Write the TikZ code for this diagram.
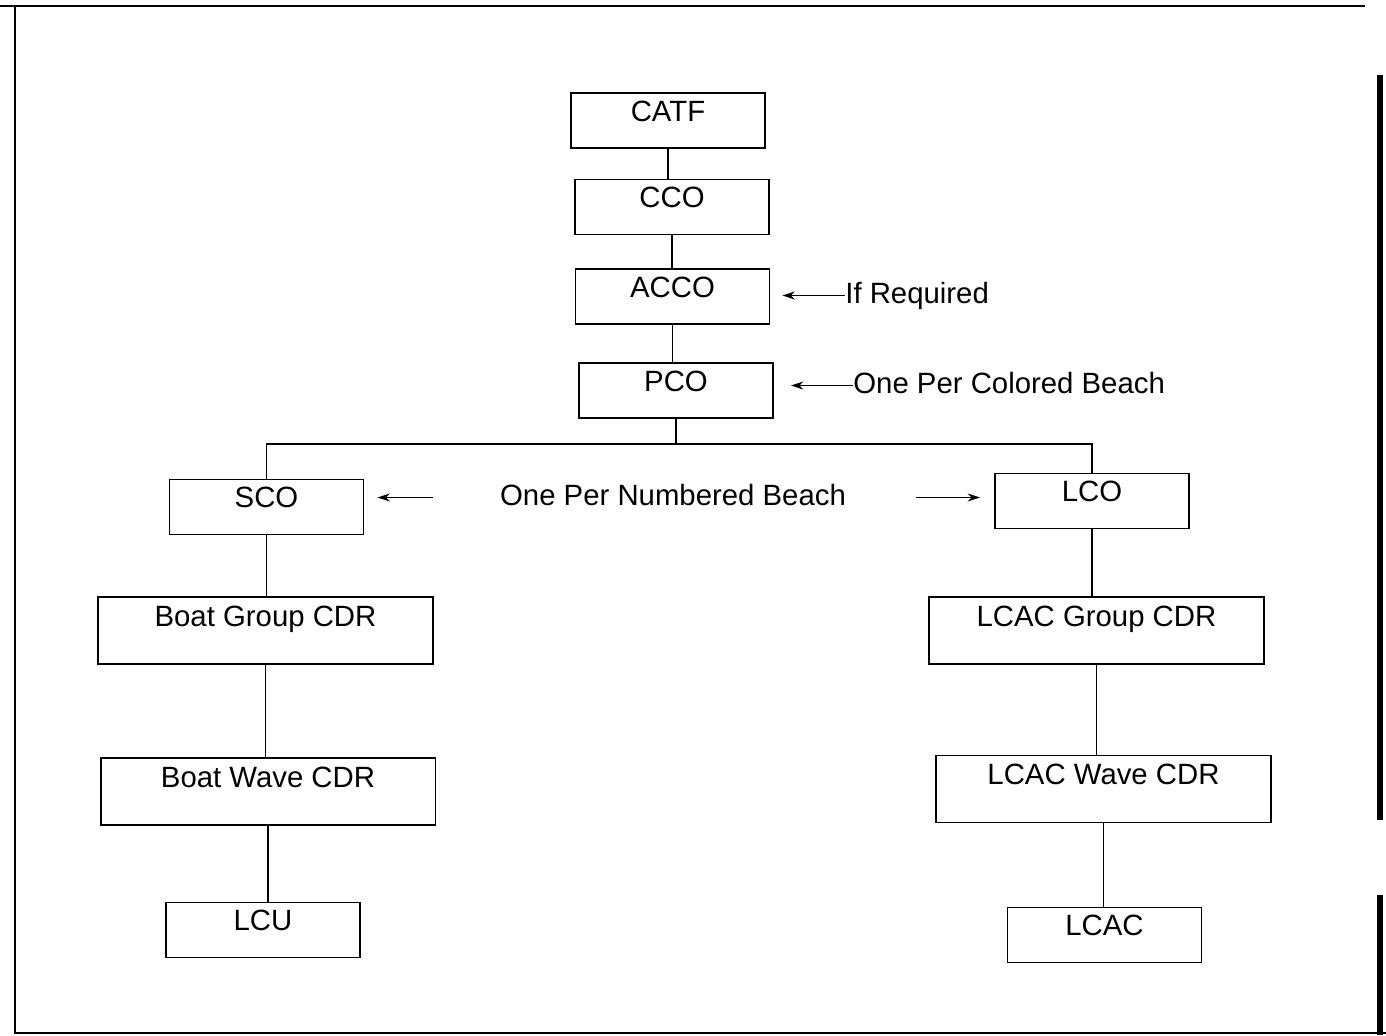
\documentclass[tikz,border=0pt]{standalone}
\usepackage{fontspec}
\setmainfont{Liberation Sans}
\usetikzlibrary{arrows.meta}
\tikzset{
  box/.style={draw, line width=1.1pt, inner sep=0pt, minimum width=3.88cm, text height=0.56cm, text depth=0.54cm},
  widebox/.style={box, minimum width=6.7cm, text height=0.58cm, text depth=0.76cm},
  note/.style={inner sep=0pt, text height=0.44cm, text depth=0.14cm},
  link/.style={line width=0.8pt},
  pointer/.style={->, line width=1pt}
}
\begin{document}
\begin{tikzpicture}[>={Stealth[length=7pt, width=4.5pt]}, x=0.02cm, y=-0.02cm, font=\fontsize{16.7}{20}\selectfont]
	\useasboundingbox (0,0) rectangle (1386,1035);
	% khung
	\draw[line width=1.2pt] (0,6) -- (1365,6);
	\draw[line width=1.2pt] (15,6) -- (15,1033) -- (1386,1033);
	\draw[line width=3pt] (1380,75) -- (1380,820);
	\draw[line width=3pt] (1380,895) -- (1380,1035);
	% cap tren
	\node[box] (catf) at (668,120.5) {CATF};
	\node[box] (cco) at (672,207) {CCO};
	\node[box] (acco) at (672.5,296.5) {ACCO};
	\node[box] (pco) at (676,390.5) {PCO};
	\draw[link] (catf.south) -- (catf.south |- cco.north);
	\draw[link] (cco.south) -- (cco.south |- acco.north);
	\draw[link] (acco.south) -- (acco.south |- pco.north);
	\node[note, anchor=base west] (ifreq) at (845,303) {If Required};
	\node[note, anchor=base west] (colored) at (853,393) {One Per Colored Beach};
	\draw[pointer, shorten >=0.24cm] (ifreq.west) -- (acco.east |- ifreq.west);
	\draw[pointer, shorten >=0.34cm] (colored.west) -- (pco.east |- colored.west);
	% hai nhanh
	\node[box] (sco) at (266.5,507) {SCO};
	\node[box] (lco) at (1092,501) {LCO};
	\draw[link] (pco.south) -- ++(0,25) coordinate (bus);
	\draw[link] (sco.north) |- (bus) -| (lco.north);
	\node[note, anchor=base] (numbered) at (673,505) {One Per Numbered Beach};
	\draw[pointer, shorten <=1.34cm, shorten >=0.26cm] (numbered.west) -- (sco.east |- numbered.west);
	\draw[pointer, shorten <=1.40cm, shorten >=0.28cm] (numbered.east) -- (lco.west |- numbered.east);
	% nhanh trai
	\node[widebox] (bgroup) at (265.5,630.5) {Boat Group CDR};
	\node[widebox] (bwave) at (268,791.5) {Boat Wave CDR};
	\node[box] (lcu) at (263,930) {LCU};
	\draw[link] (sco.south) -- (sco.south |- bgroup.north);
	\draw[link] (bgroup.south) -- (bgroup.south |- bwave.north);
	\draw[link] (bwave.south) -- (bwave.south |- lcu.north);
	% nhanh phai
	\node[widebox] (lgroup) at (1096.5,630.5) {LCAC Group CDR};
	\node[widebox] (lwave) at (1103.5,789) {LCAC Wave CDR};
	\node[box] (lcac) at (1104.5,935) {LCAC};
	\draw[link] (lco.south) -- (lco.south |- lgroup.north);
	\draw[link] (lgroup.south) -- (lgroup.south |- lwave.north);
	\draw[link] (lwave.south) -- (lwave.south |- lcac.north);
\end{tikzpicture}
\end{document}
